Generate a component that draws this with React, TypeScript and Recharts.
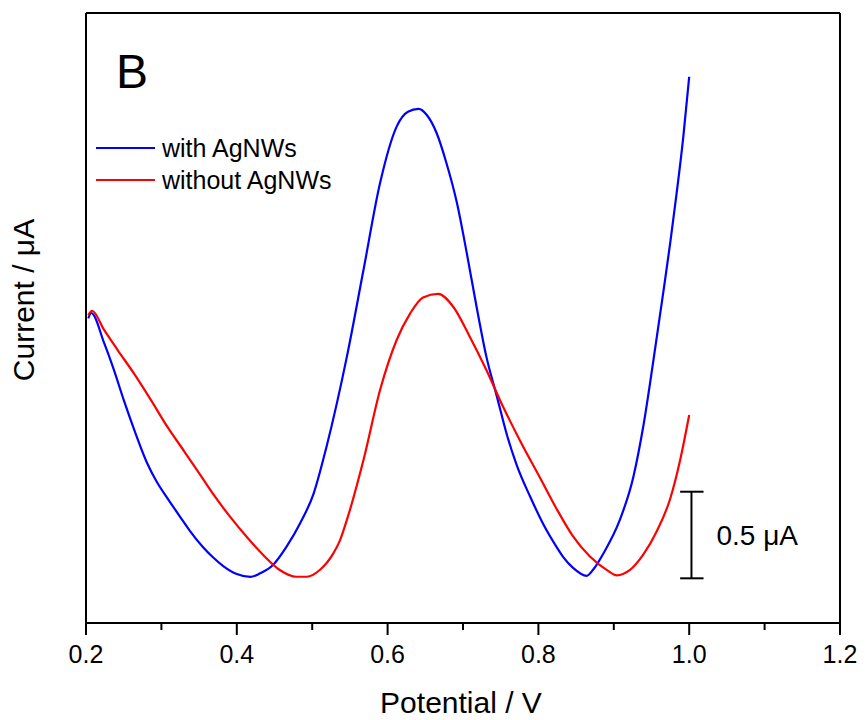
import { LineChart, Line, XAxis, YAxis, ReferenceLine, Label } from 'recharts'

// potential (V) and current (µA, arbitrary offset)
const potentialWith = [0.203, 0.207, 0.224, 0.237, 0.250, 0.264, 0.281, 0.294, 0.307, 0.325, 0.338, 0.355, 0.368, 0.382, 0.400, 0.418, 0.431, 0.448, 0.466, 0.484, 0.502, 0.519, 0.546, 0.568, 0.590, 0.612, 0.627, 0.641, 0.652, 0.665, 0.678, 0.692, 0.705, 0.718, 0.731, 0.745, 0.758, 0.771, 0.789, 0.806, 0.824, 0.833, 0.846, 0.864, 0.873, 0.886, 0.908, 0.926, 0.939, 0.952, 0.966, 0.975, 0.983, 0.992, 1.0]
const currentWith = [1.759, 1.790, 1.617, 1.461, 1.288, 1.115, 0.924, 0.814, 0.727, 0.612, 0.531, 0.439, 0.381, 0.329, 0.283, 0.266, 0.287, 0.335, 0.441, 0.576, 0.749, 1.018, 1.538, 2.038, 2.540, 2.866, 2.952, 2.968, 2.933, 2.829, 2.656, 2.425, 2.136, 1.826, 1.538, 1.307, 1.090, 0.915, 0.730, 0.575, 0.440, 0.380, 0.318, 0.272, 0.310, 0.400, 0.595, 0.845, 1.133, 1.500, 1.920, 2.200, 2.470, 2.800, 3.154]

const potentialWithout = [0.203, 0.208, 0.224, 0.242, 0.264, 0.286, 0.308, 0.330, 0.352, 0.369, 0.391, 0.413, 0.435, 0.457, 0.479, 0.493, 0.510, 0.528, 0.537, 0.546, 0.568, 0.590, 0.612, 0.630, 0.647, 0.667, 0.687, 0.709, 0.731, 0.753, 0.776, 0.802, 0.824, 0.846, 0.868, 0.891, 0.904, 0.921, 0.939, 0.957, 0.975, 0.988, 1.0]
const currentWithout = [1.778, 1.803, 1.692, 1.576, 1.438, 1.288, 1.132, 0.993, 0.852, 0.742, 0.614, 0.498, 0.393, 0.306, 0.267, 0.267, 0.306, 0.402, 0.479, 0.595, 0.941, 1.345, 1.634, 1.788, 1.880, 1.900, 1.826, 1.653, 1.461, 1.250, 1.050, 0.840, 0.660, 0.500, 0.385, 0.305, 0.275, 0.305, 0.395, 0.530, 0.720, 0.941, 1.201]

const xDomain = [0.2, 1.2]
const yDomain = [0, 3.522]
const xTicks = [0.2, 0.3, 0.4, 0.5, 0.6, 0.7, 0.8, 0.9, 1.0, 1.1, 1.2]

// 0.5 µA scale bar
const scaleBarX = 1.003
const scaleBarCapX = [0.988, 1.019]
const scaleBarY = [0.258, 0.758]
const scaleBarText = '0.5 μA'

const legendItems = [
  { name: 'with AgNWs', color: '#0000ff' },
  { name: 'without AgNWs', color: '#ff0000' },
]

const FONT = '"Liberation Sans", Arial, sans-serif'

const dataWith = potentialWith.map((v, i) => ({ v, c: currentWith[i] }))
const dataWithout = potentialWithout.map((v, i) => ({ v, c: currentWithout[i] }))

function XTick(props: any) {
  const { x, y, payload } = props
  const major = Math.round(payload.value * 10) % 2 === 0
  return (
    <g>
      <line x1={x} x2={x} y1={y} y2={y + (major ? 12 : 7)} stroke="#000" strokeWidth={2} />
      {major && (
        <text x={x} y={y + 40} textAnchor="middle" fontSize={25} fontFamily={FONT} fill="#000">
          {payload.value.toFixed(1)}
        </text>
      )}
    </g>
  )
}

const frame = { stroke: '#000', strokeWidth: 2, ifOverflow: 'visible' as const }

export default function App() {
  return (
    <div style={{ position: 'absolute', left: 0, top: 0, width: 865, height: 720, background: '#fff' }}>
      <LineChart width={865} height={720} data={dataWith} margin={{ top: 13, right: 25, bottom: 37, left: 86 }}>
        <XAxis
          dataKey="v"
          type="number"
          domain={xDomain}
          ticks={xTicks}
          allowDataOverflow
          height={60}
          tickSize={0}
          tickMargin={0}
          tickLine={false}
          interval={0}
          axisLine={{ stroke: '#000', strokeWidth: 2 }}
          tick={<XTick />}
        >
          <Label
            content={({ viewBox }: any) => (
              <text x={viewBox.x + viewBox.width / 2 - 2} y={viewBox.y + 90} textAnchor="middle" fontSize={30} fontFamily={FONT} fill="#000">
                Potential / V
              </text>
            )}
          />
        </XAxis>
        <YAxis type="number" domain={yDomain} allowDataOverflow hide />

        {/* plot frame */}
        <ReferenceLine x={xDomain[0]} {...frame}>
          <Label
            content={({ viewBox }: any) => {
              const cx = viewBox.x - 52
              const cy = viewBox.y + viewBox.height / 2 - 18
              return (
                <text x={cx} y={cy} transform={`rotate(-90, ${cx}, ${cy})`} textAnchor="middle" fontSize={30} fontFamily={FONT} fill="#000">
                  Current / μA
                </text>
              )
            }}
          />
        </ReferenceLine>
        <ReferenceLine x={xDomain[1]} {...frame} />
        <ReferenceLine y={yDomain[1]} {...frame} />

        <Line data={dataWith} dataKey="c" type="monotone" stroke="#0000ff" strokeWidth={2.2} dot={false} isAnimationActive={false} />
        <Line data={dataWithout} dataKey="c" type="monotone" stroke="#ff0000" strokeWidth={2.2} dot={false} isAnimationActive={false} />

        <ReferenceLine
          segment={[{ x: scaleBarX, y: scaleBarY[0] }, { x: scaleBarX, y: scaleBarY[1] }]}
          {...frame}
        >
          <Label
            content={({ viewBox }: any) => (
              <text x={viewBox.x + 25} y={viewBox.y + viewBox.height / 2 + 10} fontSize={28} fontFamily={FONT} fill="#000">
                {scaleBarText}
              </text>
            )}
          />
        </ReferenceLine>
        {scaleBarY.map((y) => (
          <ReferenceLine key={y} segment={[{ x: scaleBarCapX[0], y }, { x: scaleBarCapX[1], y }]} {...frame} />
        ))}
      </LineChart>

      <svg width={865} height={720} style={{ position: 'absolute', left: 0, top: 0, pointerEvents: 'none' }}>
        <text x={116} y={88} fontSize={48} fontFamily={FONT} fill="#000">B</text>
        {legendItems.map((item, i) => (
          <g key={item.name}>
            <line x1={96} x2={155} y1={148 + i * 32} y2={148 + i * 32} stroke={item.color} strokeWidth={2} />
            <text x={162} y={157 + i * 32} fontSize={25} fontFamily={FONT} fill="#000">{item.name}</text>
          </g>
        ))}
      </svg>
    </div>
  )
}
